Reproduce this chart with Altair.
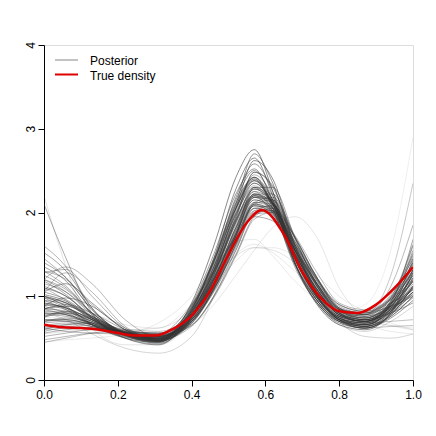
import altair as alt
import pandas as pd

grid = [0, 0.06, 0.13, 0.22, 0.31, 0.40, 0.46, 0.52, 0.57, 0.62, 0.68, 0.74, 0.80, 0.87, 0.94, 1.0]

posterior = [
    [0.90, 0.84, 0.70, 0.54, 0.48, 0.78, 1.20, 1.75, 2.15, 2.05, 1.55, 1.10, 0.80, 0.72, 0.88, 1.20],
    [1.20, 1.05, 0.78, 0.54, 0.46, 0.85, 1.40, 2.05, 2.40, 2.10, 1.45, 0.98, 0.72, 0.64, 0.80, 1.05],
    [0.70, 0.72, 0.66, 0.56, 0.52, 0.65, 1.00, 1.50, 1.95, 2.05, 1.70, 1.22, 0.85, 0.80, 1.00, 1.45],
    [1.45, 1.22, 0.84, 0.55, 0.45, 0.80, 1.32, 2.02, 2.45, 2.20, 1.50, 1.00, 0.76, 0.70, 0.95, 1.60],
    [0.58, 0.62, 0.62, 0.58, 0.55, 0.90, 1.30, 1.70, 1.95, 1.90, 1.55, 1.15, 0.84, 0.74, 0.90, 1.25],
    [1.05, 1.15, 0.92, 0.60, 0.48, 0.72, 1.10, 1.65, 2.10, 2.02, 1.45, 1.00, 0.74, 0.66, 0.82, 1.10],
    [0.80, 0.78, 0.68, 0.55, 0.50, 0.80, 1.35, 2.10, 2.70, 2.35, 1.55, 1.00, 0.72, 0.62, 0.74, 0.95],
    [1.30, 1.12, 0.80, 0.55, 0.47, 0.75, 1.18, 1.78, 2.20, 2.10, 1.60, 1.15, 0.82, 0.74, 0.92, 1.30],
    [0.65, 0.68, 0.64, 0.56, 0.53, 0.68, 1.08, 1.62, 2.05, 2.08, 1.65, 1.18, 0.86, 0.80, 1.02, 1.50],
    [1.00, 0.92, 0.72, 0.54, 0.48, 0.88, 1.45, 2.15, 2.50, 2.15, 1.40, 0.95, 0.70, 0.62, 0.76, 1.00],
    [0.52, 0.56, 0.60, 0.58, 0.56, 0.78, 1.22, 1.75, 2.10, 2.00, 1.55, 1.12, 0.82, 0.76, 0.98, 1.40],
    [1.12, 1.00, 0.76, 0.55, 0.47, 0.70, 1.08, 1.62, 2.10, 2.15, 1.70, 1.20, 0.84, 0.72, 0.80, 0.92],
    [0.85, 0.88, 0.76, 0.56, 0.46, 0.76, 1.30, 2.05, 2.62, 2.40, 1.60, 1.02, 0.72, 0.64, 0.82, 1.32],
    [1.25, 1.10, 0.80, 0.56, 0.50, 0.82, 1.28, 1.85, 2.20, 2.05, 1.52, 1.08, 0.80, 0.74, 0.98, 1.62],
    [0.92, 0.86, 0.72, 0.56, 0.52, 0.74, 1.15, 1.70, 2.08, 1.98, 1.50, 1.08, 0.78, 0.70, 0.84, 1.05],
    [0.64, 0.66, 0.64, 0.57, 0.54, 0.70, 1.10, 1.68, 2.12, 2.10, 1.62, 1.15, 0.82, 0.74, 0.90, 1.18],
    [1.52, 1.30, 0.86, 0.54, 0.44, 0.74, 1.25, 1.95, 2.35, 2.12, 1.48, 1.00, 0.74, 0.68, 0.84, 1.05],
    [0.98, 0.86, 0.68, 0.53, 0.49, 0.86, 1.42, 2.08, 2.40, 2.05, 1.38, 0.95, 0.72, 0.68, 0.94, 1.48],
    [0.72, 0.72, 0.66, 0.56, 0.52, 0.72, 1.15, 1.72, 2.18, 2.15, 1.65, 1.18, 0.86, 0.78, 0.92, 1.22],
    [1.15, 1.05, 0.80, 0.57, 0.49, 0.70, 1.05, 1.55, 1.98, 2.00, 1.62, 1.20, 0.88, 0.80, 0.88, 1.00],
    [0.48, 0.52, 0.56, 0.57, 0.56, 0.82, 1.30, 1.88, 2.22, 2.05, 1.50, 1.05, 0.76, 0.70, 0.88, 1.25],
    [0.88, 0.98, 0.88, 0.60, 0.47, 0.68, 1.10, 1.75, 2.30, 2.30, 1.70, 1.12, 0.76, 0.64, 0.78, 1.12],
    [1.35, 1.18, 0.78, 0.50, 0.42, 0.82, 1.42, 2.12, 2.42, 2.05, 1.35, 0.92, 0.70, 0.64, 0.90, 1.40],
    [0.78, 0.76, 0.68, 0.56, 0.52, 0.76, 1.20, 1.80, 2.22, 2.12, 1.60, 1.12, 0.80, 0.72, 0.86, 1.12],
    [1.05, 1.28, 1.05, 0.64, 0.48, 0.68, 1.08, 1.65, 2.08, 2.05, 1.58, 1.15, 0.84, 0.76, 0.92, 1.32],
    [0.62, 0.64, 0.62, 0.57, 0.54, 0.88, 1.42, 2.05, 2.38, 2.08, 1.45, 0.98, 0.72, 0.64, 0.76, 1.00],
    [0.92, 0.86, 0.72, 0.55, 0.49, 0.76, 1.25, 1.95, 2.48, 2.30, 1.62, 1.05, 0.74, 0.68, 0.92, 1.68],
    [1.20, 1.08, 0.80, 0.56, 0.49, 0.76, 1.18, 1.72, 2.08, 2.00, 1.55, 1.14, 0.84, 0.78, 0.96, 1.30],
    [0.82, 0.80, 0.70, 0.57, 0.53, 0.70, 1.08, 1.58, 2.00, 2.02, 1.65, 1.22, 0.90, 0.82, 0.92, 1.08],
    [1.02, 0.94, 0.74, 0.54, 0.47, 0.84, 1.40, 2.18, 2.58, 2.25, 1.45, 0.95, 0.70, 0.62, 0.80, 1.22],
    [0.70, 0.74, 0.68, 0.56, 0.51, 0.76, 1.22, 1.82, 2.18, 2.02, 1.50, 1.06, 0.78, 0.72, 0.94, 1.55],
    [1.40, 1.22, 0.84, 0.55, 0.46, 0.72, 1.18, 1.82, 2.22, 2.10, 1.55, 1.08, 0.78, 0.70, 0.86, 1.08],
    [0.85, 0.82, 0.70, 0.56, 0.52, 0.80, 1.28, 1.90, 2.28, 2.12, 1.55, 1.08, 0.78, 0.70, 0.88, 1.18],
    [1.10, 1.00, 0.74, 0.53, 0.46, 0.82, 1.35, 2.05, 2.42, 2.15, 1.48, 1.00, 0.74, 0.66, 0.84, 1.18],
    [0.56, 0.60, 0.62, 0.59, 0.56, 0.72, 1.12, 1.65, 2.05, 2.02, 1.58, 1.15, 0.84, 0.78, 0.98, 1.35],
    [0.95, 0.90, 0.74, 0.56, 0.49, 0.72, 1.12, 1.72, 2.22, 2.22, 1.68, 1.15, 0.80, 0.70, 0.82, 1.02],
    [1.00, 0.88, 0.66, 0.50, 0.45, 0.92, 1.60, 2.42, 2.75, 2.25, 1.40, 0.90, 0.66, 0.60, 0.80, 1.28],
    [0.75, 0.80, 0.72, 0.55, 0.47, 0.84, 1.45, 2.28, 2.65, 2.20, 1.40, 0.92, 0.68, 0.62, 0.78, 1.12],
    [0.45, 0.50, 0.56, 0.60, 0.58, 0.80, 1.22, 1.72, 2.05, 1.98, 1.55, 1.12, 0.84, 0.80, 0.96, 1.28],
    [1.20, 1.35, 1.15, 0.72, 0.52, 0.66, 1.00, 1.55, 2.02, 2.08, 1.70, 1.22, 0.86, 0.74, 0.88, 1.08],
    [2.10, 1.45, 0.80, 0.50, 0.43, 0.78, 1.30, 2.00, 2.35, 2.10, 1.45, 0.98, 0.74, 0.68, 0.84, 1.28],
    [0.90, 0.86, 0.72, 0.55, 0.49, 0.74, 1.18, 1.78, 2.15, 2.02, 1.50, 1.08, 0.80, 0.78, 1.12, 1.85],
    [1.00, 0.92, 0.74, 0.56, 0.51, 0.80, 1.32, 1.98, 2.30, 2.02, 1.38, 0.98, 0.76, 0.78, 1.25, 2.35],
    [0.80, 0.78, 0.68, 0.57, 0.53, 0.76, 1.20, 1.75, 2.12, 2.05, 1.58, 1.12, 0.80, 0.68, 0.70, 0.72],
    [1.10, 0.95, 0.72, 0.53, 0.49, 0.82, 1.32, 1.98, 2.32, 2.08, 1.45, 0.98, 0.72, 0.62, 0.64, 0.65],
    [0.68, 0.70, 0.66, 0.56, 0.50, 0.74, 1.22, 1.92, 2.48, 2.32, 1.58, 1.02, 0.72, 0.64, 0.78, 1.05],
    [1.30, 1.20, 0.90, 0.62, 0.50, 0.70, 1.08, 1.60, 2.02, 2.02, 1.62, 1.20, 0.90, 0.82, 0.96, 1.20],
    [0.95, 0.84, 0.66, 0.51, 0.47, 0.86, 1.42, 2.10, 2.42, 2.10, 1.40, 0.95, 0.72, 0.66, 0.86, 1.38],
    [0.60, 0.66, 0.68, 0.60, 0.54, 0.72, 1.15, 1.75, 2.18, 2.10, 1.58, 1.12, 0.80, 0.72, 0.88, 1.18],
    [1.60, 1.35, 0.86, 0.53, 0.45, 0.76, 1.28, 1.98, 2.38, 2.15, 1.50, 1.02, 0.74, 0.66, 0.82, 1.10],
    [0.85, 0.90, 0.80, 0.60, 0.49, 0.70, 1.12, 1.72, 2.20, 2.15, 1.62, 1.14, 0.80, 0.70, 0.86, 1.45],
    [1.05, 0.96, 0.75, 0.56, 0.50, 0.78, 1.25, 1.88, 2.28, 2.10, 1.52, 1.06, 0.78, 0.72, 0.90, 1.25],
    [0.72, 0.70, 0.64, 0.55, 0.52, 0.84, 1.38, 2.05, 2.38, 2.10, 1.45, 0.98, 0.72, 0.66, 0.82, 1.15],
    [0.88, 0.80, 0.66, 0.52, 0.48, 0.64, 0.98, 1.48, 1.92, 2.00, 1.72, 1.28, 0.92, 0.84, 0.98, 1.35],
    [1.28, 1.32, 1.00, 0.62, 0.47, 0.80, 1.30, 1.92, 2.25, 2.00, 1.42, 1.00, 0.76, 0.70, 0.92, 1.52],
    [0.62, 0.58, 0.56, 0.55, 0.55, 0.86, 1.35, 1.92, 2.20, 1.98, 1.45, 1.02, 0.76, 0.68, 0.80, 0.98],
    [0.98, 0.92, 0.76, 0.57, 0.50, 0.68, 1.06, 1.62, 2.12, 2.18, 1.72, 1.22, 0.86, 0.76, 0.86, 1.02],
    [0.76, 0.82, 0.74, 0.58, 0.50, 0.90, 1.50, 2.22, 2.52, 2.12, 1.38, 0.92, 0.70, 0.66, 0.90, 1.42],
    [1.18, 1.02, 0.74, 0.52, 0.46, 0.74, 1.20, 1.82, 2.25, 2.12, 1.55, 1.08, 0.78, 0.70, 0.84, 1.12],
    [0.84, 0.78, 0.66, 0.54, 0.51, 0.78, 1.26, 1.90, 2.30, 2.12, 1.52, 1.04, 0.76, 0.70, 0.90, 1.32],
    # faint draws
    [0.55, 0.58, 0.60, 0.60, 0.62, 0.85, 1.20, 1.48, 1.58, 1.55, 1.40, 1.15, 0.90, 0.82, 0.88, 1.05],
    [0.60, 0.62, 0.62, 0.58, 0.55, 0.66, 0.90, 1.25, 1.55, 1.82, 1.95, 1.70, 1.10, 0.75, 0.65, 0.60],
    [0.75, 0.74, 0.66, 0.55, 0.52, 0.75, 1.20, 1.80, 2.10, 1.95, 1.45, 1.05, 0.82, 0.90, 1.55, 2.90],
    [2.20, 1.35, 0.62, 0.42, 0.42, 0.72, 1.22, 1.88, 2.18, 2.00, 1.45, 1.00, 0.74, 0.68, 0.86, 1.20],
    [0.80, 0.72, 0.55, 0.38, 0.32, 0.52, 1.00, 1.72, 2.28, 2.22, 1.50, 0.95, 0.66, 0.58, 0.70, 0.88],
    [0.95, 0.92, 0.80, 0.66, 0.62, 0.90, 1.15, 1.42, 1.58, 1.58, 1.48, 1.25, 1.00, 0.82, 0.68, 0.60],
    [0.45, 0.48, 0.50, 0.55, 0.68, 1.00, 1.38, 1.65, 1.68, 1.48, 1.18, 0.95, 0.78, 0.66, 0.58, 0.55],
    [0.70, 0.72, 0.66, 0.56, 0.54, 0.82, 1.35, 1.98, 2.30, 2.15, 1.55, 1.05, 0.70, 0.52, 0.50, 0.55],
    [0.85, 0.80, 0.66, 0.52, 0.50, 0.78, 1.15, 1.50, 1.62, 1.52, 1.30, 1.08, 0.85, 0.70, 0.65, 0.62],
]

# posterior weight of each draw (drawn as line opacity)
weights = [
    0.65, 0.6, 0.65, 0.55, 0.6, 0.7, 0.75, 0.55, 0.5, 0.75,
    0.55, 0.65, 0.8, 0.6, 0.65, 0.55, 0.65, 0.6, 0.65, 0.55,
    0.5, 0.65, 0.7, 0.6, 0.5, 0.6, 0.65, 0.55, 0.55, 0.75,
    0.6, 0.65, 0.65, 0.7, 0.55, 0.6, 0.85, 0.8, 0.45, 0.5,
    0.6, 0.5, 0.4, 0.45, 0.45, 0.6, 0.55, 0.65, 0.6, 0.55,
    0.6, 0.65, 0.6, 0.5, 0.55, 0.5, 0.6, 0.7, 0.6, 0.65,
    0.2, 0.18, 0.12, 0.2, 0.3, 0.15, 0.15, 0.3, 0.15,
]

true_x = [0.0, 0.05, 0.1, 0.15, 0.2, 0.25, 0.3, 0.35, 0.4, 0.45, 0.5,
          0.55, 0.59, 0.65, 0.7, 0.75, 0.8, 0.85, 0.9, 0.95, 1.0]
true_y = [0.66, 0.63, 0.62, 0.60, 0.56, 0.53, 0.53, 0.61, 0.77, 1.06, 1.50,
          1.88, 2.03, 1.74, 1.29, 0.98, 0.82, 0.80, 0.90, 1.10, 1.35]

x_ticks = [0.0, 0.2, 0.4, 0.6, 0.8, 1.0]
y_ticks = [0, 1, 2, 3, 4]
legend_labels = ["Posterior", "True density"]

rows = []
for i, (curve, w) in enumerate(zip(posterior, weights)):
    for xv, yv in zip(grid, curve):
        rows.append({"draw": i, "x": xv, "y": yv, "w": w})
post_df = pd.DataFrame(rows)
true_df = pd.DataFrame({"x": true_x, "y": true_y})

FONT = "Liberation Sans"

xscale = alt.Scale(domain=[0, 1], nice=False, zero=False)
yscale = alt.Scale(domain=[0, 4], nice=False, zero=True)

xaxis = alt.Axis(values=x_ticks, format=".1f", title=None, grid=False,
                 tickSize=6, labelPadding=3, labelFlush=False, labelOverlap=False,
                 labelFont=FONT, labelFontSize=12, labelColor="black",
                 domainColor="black", tickColor="black")
yaxis = alt.Axis(values=y_ticks, format="d", title=None, grid=False,
                 tickSize=6, labelPadding=1, labelAngle=-90, labelFlush=False,
                 labelOverlap=False, labelAlign="center", labelBaseline="bottom",
                 labelFont=FONT, labelFontSize=12, labelColor="black",
                 domainColor="black", tickColor="black")

post = alt.Chart(post_df).mark_line(
    interpolate="monotone", strokeWidth=0.8, color="#333333", clip=True
).encode(
    x=alt.X("x:Q", scale=xscale, axis=xaxis),
    y=alt.Y("y:Q", scale=yscale, axis=yaxis),
    detail="draw:N",
    opacity=alt.Opacity("w:Q", scale=alt.Scale(domain=[0, 1], range=[0, 0.85]), legend=None),
)

truth = alt.Chart(true_df).mark_line(
    interpolate="monotone", strokeWidth=2.5, color="#DD0000", clip=True
).encode(x="x:Q", y="y:Q")

leg1_line = alt.Chart(pd.DataFrame({"k": [legend_labels[0]]})).mark_rule(
    color="#9a9a9a", strokeWidth=1.2
).encode(x=alt.value(11), x2=alt.value(34), y=alt.value(15))
leg2_line = alt.Chart(pd.DataFrame({"k": [legend_labels[1]]})).mark_rule(
    color="#DD0000", strokeWidth=2
).encode(x=alt.value(11), x2=alt.value(34), y=alt.value(29.5))
leg1_text = alt.Chart(pd.DataFrame({"k": [legend_labels[0]]})).mark_text(
    align="left", baseline="middle", font=FONT, fontSize=12, color="black"
).encode(text="k:N", x=alt.value(46), y=alt.value(16))
leg2_text = alt.Chart(pd.DataFrame({"k": [legend_labels[1]]})).mark_text(
    align="left", baseline="middle", font=FONT, fontSize=12, color="black"
).encode(text="k:N", x=alt.value(46), y=alt.value(31))

chart = alt.layer(post, truth, leg1_line, leg2_line, leg1_text, leg2_text).properties(
    width=369, height=335,
    autosize="none",
    padding={"left": 36, "top": 37, "right": 15, "bottom": 40},
).configure_view(stroke=None).configure(background="white")

chart.save("out.html", embed_options={"renderer": "svg", "actions": False})
